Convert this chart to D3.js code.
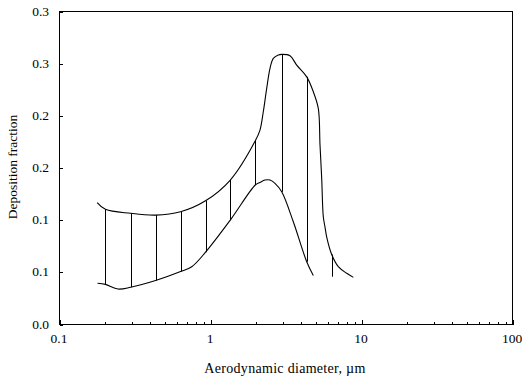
<!DOCTYPE html>
<html>
<head>
<meta charset="utf-8">
<script src="https://cdn.jsdelivr.net/npm/d3@7"></script>
<style>
  html, body { margin: 0; padding: 0; background: #fff; }
  svg { display: block; }
  text { font-family: "Liberation Serif", "Times New Roman", serif; fill: #000; }
</style>
</head>
<body>
<script>
// ---- data ----
const upperDiameter = [0.179, 0.203, 0.298, 0.436, 0.638, 0.934, 1.363, 1.995, 2.143, 2.254, 2.374, 2.497, 2.626, 2.834, 2.985, 3.388, 3.752, 4.370, 4.832, 5.215, 5.352, 5.492, 5.628, 5.776, 5.928, 6.397, 7.075, 8.04, 8.893];
const upperFraction = [0.1164, 0.1099, 0.1061, 0.1044, 0.1076, 0.1181, 0.1380, 0.1756, 0.1859, 0.2034, 0.2258, 0.2450, 0.2546, 0.2578, 0.2584, 0.2571, 0.2481, 0.2369, 0.2226, 0.2066, 0.1715, 0.1396, 0.1028, 0.0929, 0.0833, 0.0666, 0.0549, 0.0486, 0.0447];

const lowerDiameter = [0.180, 0.203, 0.246, 0.298, 0.436, 0.638, 0.757, 0.934, 1.363, 1.995, 2.143, 2.313, 2.497, 2.694, 2.985, 3.562, 4.370, 4.832];
const lowerFraction = [0.0390, 0.0380, 0.0335, 0.0352, 0.0417, 0.0503, 0.0549, 0.0688, 0.0996, 0.1332, 0.1357, 0.1380, 0.1380, 0.1348, 0.1267, 0.0980, 0.0597, 0.0465];

const dropDiameter = [0.203, 0.298, 0.436, 0.638, 0.934, 1.363, 1.995, 2.985, 4.370, 6.397];
const dropLow  = [0.0380, 0.0352, 0.0417, 0.0503, 0.0688, 0.0996, 0.1332, 0.1267, 0.0597, 0.0453];
const dropHigh = [0.1099, 0.1061, 0.1044, 0.1076, 0.1181, 0.1380, 0.1756, 0.2584, 0.2369, 0.0666];

const yTickValues = [0, 0.05, 0.10, 0.15, 0.20, 0.25, 0.30];
const yTickLabels = ["0.0", "0.1", "0.1", "0.2", "0.2", "0.3", "0.3"];
const xMajorTicks = [0.1, 1, 10, 100];
const xTickLabels = ["0.1", "1", "10", "100"];
const xTitle = "Aerodynamic diameter, \u00b5m";
const yTitle = "Deposition fraction";

// ---- layout ----
const W = 528, H = 383;
const mLeft = 59, mRight = 512, mTop = 11, mBottom = 324;

const svg = d3.select("body").append("svg").attr("width", W).attr("height", H);

const x = d3.scaleLog().domain([0.1, 100]).range([mLeft, mRight]);
const y = d3.scaleLinear().domain([0, 0.30]).range([mBottom, mTop]);

// frame
svg.append("rect")
  .attr("x", mLeft + 0.5).attr("y", mTop + 0.5)
  .attr("width", mRight - mLeft).attr("height", mBottom - mTop)
  .attr("fill", "none").attr("stroke", "#000").attr("stroke-width", 1)
  .attr("shape-rendering", "crispEdges");

// x axis (ticks inside)
const minorTicks = [];
[0.1, 1, 10].forEach(dec => {
  for (let k = 2; k <= 9; k++) minorTicks.push(+(dec * k).toPrecision(3));
});
const xAxisMinor = d3.axisTop(x).tickValues(minorTicks).tickSize(3).tickFormat("");
const gxm = svg.append("g").attr("transform", `translate(0.5,${mBottom + 0.5})`).call(xAxisMinor);
const xAxisMajor = d3.axisTop(x).tickValues(xMajorTicks).tickSize(5).tickFormat("");
const gxM = svg.append("g").attr("transform", `translate(0.5,${mBottom + 0.5})`).call(xAxisMajor);
[gxm, gxM].forEach(g => {
  g.select(".domain").remove();
  g.selectAll("line").attr("stroke", "#000").attr("shape-rendering", "crispEdges");
});
svg.append("g").selectAll("text").data(xMajorTicks).join("text")
  .attr("x", d => x(d)).attr("y", 343)
  .attr("text-anchor", "middle").attr("font-size", 13.5)
  .text((d, i) => xTickLabels[i]);

// y axis (ticks inside)
const yAxis = d3.axisRight(y).tickValues(yTickValues).tickSize(3).tickFormat("");
const gy = svg.append("g").attr("transform", `translate(${mLeft + 0.5},0.5)`).call(yAxis);
gy.select(".domain").remove();
gy.selectAll("line").attr("stroke", "#000").attr("shape-rendering", "crispEdges");
svg.append("g").selectAll("text").data(yTickValues).join("text")
  .attr("x", 49).attr("y", d => y(d) + 4.5)
  .attr("text-anchor", "end").attr("font-size", 13.5)
  .text((d, i) => yTickLabels[i]);

// titles
svg.append("text").attr("x", 285).attr("y", 373)
  .attr("text-anchor", "middle").attr("font-size", 14).attr("letter-spacing", 0.3).text(xTitle);
svg.append("text").attr("transform", "translate(17,167) rotate(-90)")
  .attr("text-anchor", "middle").attr("font-size", 13.5).text(yTitle);

// curves
const line = d3.line().x(d => x(d[0])).y(d => y(d[1])).curve(d3.curveCatmullRom.alpha(0.5));
const upper = upperDiameter.map((d, i) => [d, upperFraction[i]]);
const lower = lowerDiameter.map((d, i) => [d, lowerFraction[i]]);
svg.append("path").datum(upper).attr("d", line)
  .attr("fill", "none").attr("stroke", "#000").attr("stroke-width", 1.1);
svg.append("path").datum(lower).attr("d", line)
  .attr("fill", "none").attr("stroke", "#000").attr("stroke-width", 1.1);

// drop lines
svg.append("g").selectAll("line").data(dropDiameter).join("line")
  .attr("x1", d => Math.round(x(d)) + 0.5).attr("x2", d => Math.round(x(d)) + 0.5)
  .attr("y1", (d, i) => y(dropLow[i])).attr("y2", (d, i) => y(dropHigh[i]))
  .attr("stroke", "#000").attr("stroke-width", 1);
</script>
</body>
</html>
